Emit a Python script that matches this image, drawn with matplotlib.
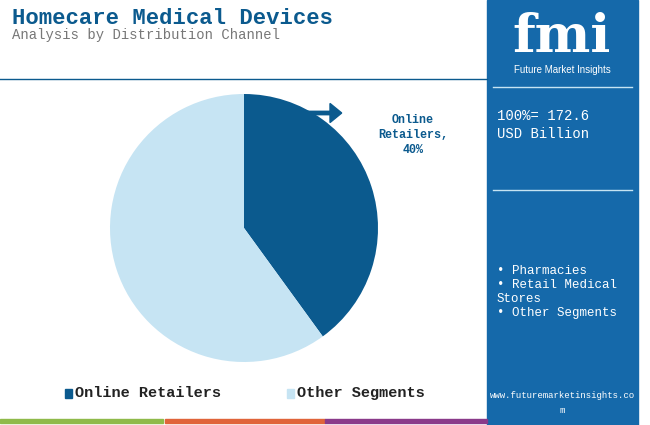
import matplotlib
matplotlib.use("Agg")
import matplotlib.pyplot as plt
from matplotlib.patches import Rectangle, FancyArrow

categories = ["Online Retailers", "Other Segments"]
values = [40, 60]
colors = ["#0b5a8e", "#c6e4f3"]
total_label = "100%= 172.6\nUSD Billion"
other_list = ["• Pharmacies", "• Retail Medical\nStores", "• Other Segments"]

W, H = 650, 425
fig = plt.figure(figsize=(6.5, 4.25), dpi=100)
font = "Liberation Mono"

def fx(x): return x / W
def fy(y): return 1 - y / H

# right panel
fig.add_artist(Rectangle((fx(487), 0), fx(638) - fx(487), 1, transform=fig.transFigure, color="#1569aa", zorder=0))
# bottom bars
for x0, x1, c in [(0, 163, "#8fba4a"), (165, 325, "#e0643a"), (325, 487, "#8a3a8a")]:
    fig.add_artist(Rectangle((fx(x0), fy(423)), fx(x1) - fx(x0), 4 / H, transform=fig.transFigure, color=c))
# header line
fig.add_artist(plt.Line2D([0, fx(487)], [fy(79), fy(79)], transform=fig.transFigure, color="#0b5a8e", lw=1))
# panel lines
for y in [87, 190]:
    fig.add_artist(plt.Line2D([fx(493), fx(632)], [fy(y), fy(y)], transform=fig.transFigure, color="#c6e4f3", lw=1))

fig.text(fx(12), fy(18), "Homecare Medical Devices", fontfamily=font, fontweight="bold", fontsize=16, color="#0b5a8e", va="center")
fig.text(fx(12), fy(35), "Analysis by Distribution Channel", fontfamily=font, fontsize=10, color="#777777", va="center")

fig.text(fx(562), fy(38), "fmi", fontfamily="DejaVu Serif", fontweight="bold", fontsize=38, color="white", ha="center", va="center")
fig.text(fx(562), fy(70), "Future Market Insights", fontfamily="Liberation Sans", fontsize=7, color="white", ha="center", va="center")

fig.text(fx(497), fy(125), total_label, fontfamily=font, fontsize=10, color="white", va="center", linespacing=1.3)
fig.text(fx(497), fy(292), "\n".join(other_list), fontfamily=font, fontsize=9, color="white", va="center", linespacing=1.2)
fig.text(fx(562), fy(403), "www.futuremarketinsights.co\nm", fontfamily=font, fontsize=6.5, color="white", ha="center", va="center", linespacing=1.8)

ax = fig.add_axes([fx(244 - 134), fy(228 + 134), 268 / W, 268 / H])
ax.pie(values, colors=colors, startangle=90, counterclock=False, radius=1)
ax.set_aspect("equal")
ax.set_xlim(-1, 1); ax.set_ylim(-1, 1)

fig.text(fx(413), fy(135), "Online\nRetailers,\n40%", fontfamily=font, fontweight="bold", fontsize=8.5, color="#0b5a8e", ha="center", va="center", linespacing=1.3)
fig.add_artist(FancyArrow(fx(305), fy(113), fx(330) - fx(305), 0, width=0.008, head_width=0.045, head_length=0.018,
                          transform=fig.transFigure, color="#0b5a8e"))

# legend
for i, (lab, c) in enumerate(zip(categories, colors)):
    x = [65, 287][i]
    fig.add_artist(Rectangle((fx(x), fy(398)), 7 / W, 9 / H, transform=fig.transFigure, color=c))
    fig.text(fx(x + 10), fy(393), lab, fontfamily=font, fontweight="bold", fontsize=11, color="#222222", va="center")

fig.savefig("out.png", dpi=100)
